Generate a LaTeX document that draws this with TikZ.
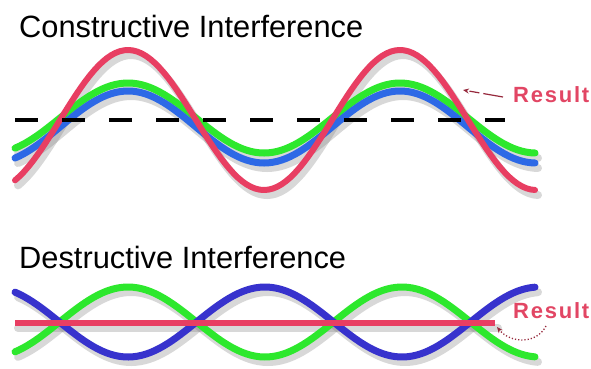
\documentclass[tikz,border=0pt]{standalone}
\usepackage{fontspec}
\setmainfont{Liberation Sans}
\newfontfamily\resfont{Liberation Sans}[LetterSpace=8]
\usetikzlibrary{arrows.meta}
\definecolor{wred}{RGB}{232,62,98}
\definecolor{wgreen}{RGB}{45,232,45}
\definecolor{wblue}{RGB}{45,105,230}
\definecolor{wblueB}{RGB}{55,50,205}
\definecolor{restext}{RGB}{226,70,100}
\definecolor{resline}{RGB}{150,40,60}
\tikzset{
  wave/.style={line width=7pt, line cap=round, line join=round},
  shadow/.style={line width=8pt, draw=gray, opacity=0.3, line cap=round},
  title/.style={anchor=base west, inner sep=0pt, font=\fontsize{30.8}{36}\selectfont},
  reslabel/.style={anchor=west, inner sep=0pt, text=restext, font=\resfont\bfseries\fontsize{22}{26}\selectfont},
  pointer/.style={draw=resline, line width=1.2pt, -{Stealth[length=6pt,width=5pt]}}
}
\begin{document}
\begin{tikzpicture}[x=1pt,y=-1pt]
\useasboundingbox (0,0) rectangle (591,368);
\fill[white] (0,0) rectangle (591,368);
% ---------- Constructive ----------
\node[title] (t1) at (19,37) {Constructive Interference};
\begin{scope}[shift={(3,5)}]
\draw[shadow] plot[domain=15:535,samples=120] (\x,{118-35*cos((\x-128)/272*360)});
\draw[shadow] plot[domain=15:535,samples=120] (\x,{127-36*cos((\x-128)/272*360)});
\draw[shadow] plot[domain=15:535,samples=120] (\x,{120-70*cos((\x-128)/272*360)});
\end{scope}
\draw[wave,wgreen] plot[domain=15:535,samples=120] (\x,{118-35*cos((\x-128)/272*360)});
\draw[wave,wblue] plot[domain=15:535,samples=120] (\x,{127-36*cos((\x-128)/272*360)});
\draw[wave,wred,line width=6pt] plot[domain=15:535,samples=120] (\x,{120-70*cos((\x-128)/272*360)});
\coordinate (d1) at (15,120);
\coordinate (d2) at (505,120);
\draw[black, line width=4pt, dash pattern=on 23pt off 24pt] (d1) -- (d2);
\node[reslabel] (r1) at (513,95) {Result};
\coordinate (p1) at (463,90);
\draw[pointer, dash pattern=on 20pt off 4pt on 10pt off 3pt] ([xshift=-10pt,yshift=-2pt]r1.west) -- (p1);
% ---------- Destructive ----------
\node[title] (t2) at (19,268) {Destructive Interference};
\begin{scope}[shift={(3,5)}]
\draw[shadow] plot[domain=15:535,samples=120] (\x,{322-35*cos((\x-128)/274*360)});
\draw[shadow] plot[domain=15:535,samples=120] (\x,{322+35*cos((\x-128)/274*360)});
\draw[shadow] (15,323) -- (495,323);
\end{scope}
\draw[wave,wgreen] plot[domain=15:535,samples=120] (\x,{322-35*cos((\x-128)/274*360)});
\draw[wave,wblueB] plot[domain=15:535,samples=120] (\x,{322+35*cos((\x-128)/274*360)});
\coordinate (h1) at (15,323);
\coordinate (h2) at (495,323);
\draw[wred, line width=6pt] (h1) -- (h2);
\node[reslabel] (r2) at (513,311) {Result};
\coordinate (q1) at (497,327);
\coordinate (q2) at (546,326);
\draw[pointer, dotted, line width=1.3pt] (q2) .. controls (536,345) and (510,343) .. (q1);
\end{tikzpicture}
\end{document}
